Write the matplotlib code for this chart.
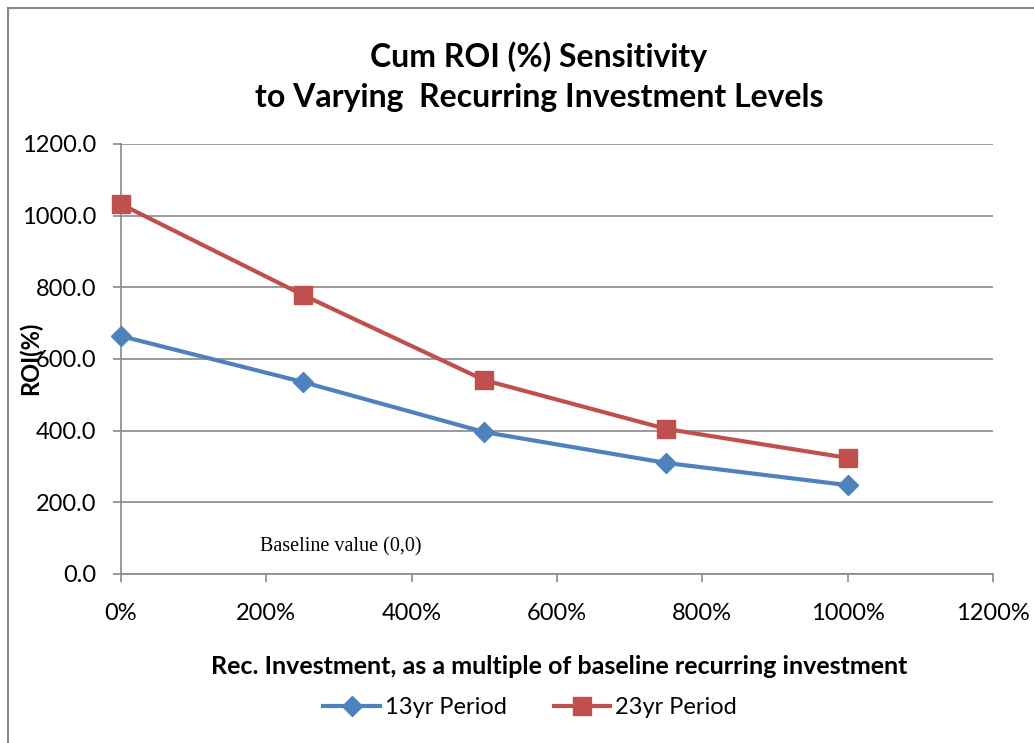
import matplotlib.pyplot as plt
from matplotlib.lines import Line2D

# data
rec_invest = [0, 250, 500, 750, 1000]
roi_13yr = [664, 536, 396, 310, 248]
roi_23yr = [1032, 779, 541, 405, 324]
series_names = ['13yr Period', '23yr Period']
x_ticks = [0, 200, 400, 600, 800, 1000, 1200]
y_ticks = [0, 200, 400, 600, 800, 1000, 1200]

blue = '#4F81BD'
red = '#C0504D'
gray = '#898989'
font = ['Lato', 'DejaVu Sans']

W, H = 1034, 743
fig = plt.figure(figsize=(W / 100, H / 100), dpi=100)
ax = fig.add_axes([121 / W, 1 - 574 / H, (993 - 121) / W, (574 - 144) / H])

ax.plot(rec_invest, roi_13yr, color=blue, lw=3, marker='D', ms=10,
        label=series_names[0], zorder=3, clip_on=False)
ax.plot(rec_invest, roi_23yr, color=red, lw=3, marker='s', ms=12.5,
        label=series_names[1], zorder=3, clip_on=False)

ax.set_xlim(0, 1200)
ax.set_ylim(0, 1200)
ax.set_xticks(x_ticks)
ax.set_xticklabels([f'{v}%' for v in x_ticks], fontfamily=font, fontsize=17)
ax.set_yticks(y_ticks)
ax.set_yticklabels([f'{v:.1f}' for v in y_ticks], fontfamily=font, fontsize=17)
ax.tick_params(axis='both', colors=gray, labelcolor='black', length=6, width=1.2)
ax.tick_params(axis='x', pad=15)
ax.tick_params(axis='y', pad=12)

ax.grid(axis='y', color=gray, lw=1.2)
ax.set_axisbelow(True)
for s in ['top', 'right']:
    ax.spines[s].set_visible(False)
for s in ['left', 'bottom']:
    ax.spines[s].set_color(gray)
    ax.spines[s].set_linewidth(1.2)

fig.text(539 / W, 1 - 77 / H, 'Cum ROI (%) Sensitivity\nto Varying  Recurring Investment Levels',
         ha='center', va='center', fontsize=23, fontweight='bold', fontfamily=font,
         linespacing=1.45)
fig.text(30 / W, 1 - 358 / H, 'ROI(%)', rotation=90, ha='center', va='center',
         fontsize=17, fontweight='bold', fontfamily=font)
fig.text(559 / W, 1 - 666 / H, 'Rec. Investment, as a multiple of baseline recurring investment',
         ha='center', va='center', fontsize=18, fontweight='bold', fontfamily=font)
fig.text(260 / W, 1 - 547 / H, 'Baseline value (0,0)', ha='left', va='center',
         fontsize=14.5, fontfamily='Liberation Serif')

handles = [Line2D([], [], color=blue, lw=3, marker='D', ms=10),
           Line2D([], [], color=red, lw=3, marker='s', ms=12.5)]
fig.legend(handles, series_names, loc='center', bbox_to_anchor=(530 / W, 1 - 708 / H),
           ncol=2, frameon=False, prop={'family': font, 'size': 17},
           handlelength=2.4, handletextpad=0.2, columnspacing=2.0)

# outer chart border (left and top edges visible)
fig.add_artist(Line2D([8 / W, 8 / W], [0, 1 - 8 / H], color=gray, lw=1.5))
fig.add_artist(Line2D([8 / W, 1], [1 - 8 / H, 1 - 8 / H], color=gray, lw=1.5))

fig.savefig('out.png', dpi=100, facecolor='white')
